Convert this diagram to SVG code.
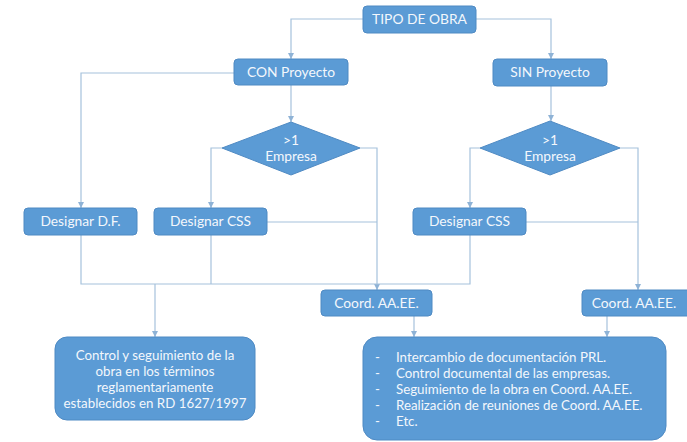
<svg xmlns="http://www.w3.org/2000/svg" width="687" height="442" viewBox="0 0 687 442">
<defs>
<marker id="arr" viewBox="0 0 10 10" refX="10" refY="5" markerWidth="6" markerHeight="6" orient="auto" markerUnits="userSpaceOnUse">
<path d="M0,0 L10,5 L0,10 z" fill="#8fb3d6"/>
</marker>
</defs>
<style>
.box{fill:#5b9bd5;stroke:#4f8ac3;stroke-width:1}
.t{font-family:Lato,"Open Sans","Liberation Sans",sans-serif;font-size:13.8px;fill:#f3f7fc;text-anchor:middle}
.m{font-family:Lato,"Open Sans","Liberation Sans",sans-serif;font-size:13.3px;fill:#f3f7fc;text-anchor:middle}
.tl{font-family:Lato,"Open Sans","Liberation Sans",sans-serif;font-size:13.3px;fill:#f3f7fc}
.c{fill:none;stroke:#a6c2dc;stroke-width:1.2}
.ca{fill:none;stroke:#a6c2dc;stroke-width:1.2;marker-end:url(#arr)}
</style>
<rect width="687" height="442" fill="#ffffff"/>
<g id="connectors">
<path class="ca" d="M363,19 H291 V59"/>
<path class="ca" d="M476,19 H551 V59"/>
<path class="ca" d="M234,73 H81 V208"/>
<path class="ca" d="M291,85 V122"/>
<path class="ca" d="M551,86 V121"/>
<path class="ca" d="M222,148 H211 V208"/>
<path class="ca" d="M480,148 H470 V208"/>
<path class="ca" d="M360,148 H377 V290"/>
<path class="c" d="M267,222 H377"/>
<path class="ca" d="M620,148 H638 V290"/>
<path class="c" d="M526,222 H638"/>
<path class="c" d="M81,235 V284 H470 V235"/>
<path class="c" d="M211,235 V284"/>
<path class="ca" d="M155,284 V337"/>
<path class="ca" d="M414,316 V337"/>
<path class="ca" d="M607,316 V337"/>
</g>
<g id="tipo">
<rect class="box" x="363" y="6" width="113" height="27" rx="4"/>
<text class="t" x="419.5" y="24">TIPO DE OBRA</text>
</g>
<g id="con">
<rect class="box" x="234" y="59" width="114" height="26" rx="4"/>
<text class="t" x="291" y="77">CON Proyecto</text>
</g>
<g id="sin">
<rect class="box" x="493" y="59" width="114" height="27" rx="4"/>
<text class="t" x="550" y="77">SIN Proyecto</text>
</g>
<g id="diamond1">
<polygon class="box" points="291,122 360,148 291,175 222,148"/>
<text class="t" x="291" y="145">&gt;1</text>
<text class="t" x="291" y="161">Empresa</text>
</g>
<g id="diamond2">
<polygon class="box" points="550,121 620,148 550,175 480,148"/>
<text class="t" x="550" y="145">&gt;1</text>
<text class="t" x="550" y="161">Empresa</text>
</g>
<g id="designarDF">
<rect class="box" x="24" y="208" width="113" height="27" rx="4"/>
<text class="t" x="80.5" y="226">Designar D.F.</text>
</g>
<g id="designarCSS1">
<rect class="box" x="154" y="208" width="113" height="27" rx="4"/>
<text class="t" x="210.5" y="226">Designar CSS</text>
</g>
<g id="designarCSS2">
<rect class="box" x="413" y="208" width="113" height="27" rx="4"/>
<text class="t" x="469.5" y="226">Designar CSS</text>
</g>
<g id="coord1">
<rect class="box" x="321" y="290" width="111" height="26" rx="4"/>
<text class="t" x="376.5" y="308">Coord. AA.EE.</text>
</g>
<g id="coord2">
<rect class="box" x="582" y="290" width="110" height="26" rx="4"/>
<text class="t" x="634" y="308">Coord. AA.EE.</text>
</g>
<g id="control">
<rect class="box" x="55" y="337" width="200" height="83" rx="12"/>
<text class="m" x="155" y="360">Control y seguimiento de la</text>
<text class="m" x="155" y="376">obra en los términos</text>
<text class="m" x="155" y="392">reglamentariamente</text>
<text class="m" x="155" y="408">establecidos en RD 1627/1997</text>
</g>
<g id="actividades">
<rect class="box" x="363" y="337" width="303" height="103" rx="14"/>
<text class="tl" x="375" y="362">-</text>
<text class="tl" x="396" y="362">Intercambio de documentación PRL.</text>
<text class="tl" x="375" y="378">-</text>
<text class="tl" x="396" y="378">Control documental de las empresas.</text>
<text class="tl" x="375" y="394">-</text>
<text class="tl" x="396" y="394">Seguimiento de la obra en Coord. AA.EE.</text>
<text class="tl" x="375" y="410">-</text>
<text class="tl" x="396" y="410">Realización de reuniones de Coord. AA.EE.</text>
<text class="tl" x="375" y="426">-</text>
<text class="tl" x="396" y="426">Etc.</text>
</g>
</svg>
